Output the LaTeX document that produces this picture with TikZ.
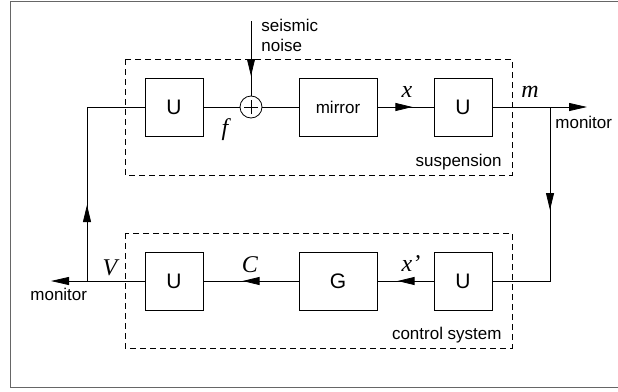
\documentclass[tikz,border=0pt]{standalone}
\usepackage{fontspec}
\setmainfont{Liberation Sans}
\newfontfamily\varfont{Liberation Serif}
\usetikzlibrary{arrows.meta,decorations.markings}
\tikzstyle{blockU}=[shape = rectangle, draw, minimum width = 58pt, minimum height = 58pt, inner sep = 0pt, font = \fontsize{21}{24}\selectfont]
\tikzstyle{blockWide}=[blockU, minimum width = 78pt]
\tikzstyle{sumNode}=[shape = circle, draw, minimum size = 22pt, inner sep = 0pt]
\tikzstyle{varLabel}=[inner sep = 0pt, anchor = base, font = \varfont\itshape\fontsize{24}{26}\selectfont]
\tikzstyle{textLabel}=[inner sep = 0pt, font = \fontsize{17}{20}\selectfont]
\tikzstyle{tipArrow}=[-{Triangle[length=18pt,width=8pt]}]
\tikzset{midArrow/.style={postaction={decorate}, decoration={markings, mark=at position #1 with {\arrow{Triangle[length=17pt,width=8pt]}}}}}

\begin{document}
\begin{tikzpicture}[x = 1pt, y = -1pt, line width = 0.8pt]
\useasboundingbox (0,0) rectangle (618,391);
% frame
\draw[black!60] (618,1) -- (10,1) -- (10,387) -- (618,387);
% subsystems
\draw[dash pattern = on 6pt off 4pt] (125,59) rectangle (512,175);
\draw[dash pattern = on 6pt off 4pt] (125,233) rectangle (512,348);
% blocks
\node[blockU] (uSusIn) at (174,107) {U};
\node[sumNode] (sum) at (251,107) {};
\draw ([xshift=-7pt]sum.center) -- ([xshift=7pt]sum.center)
      ([yshift=-7pt]sum.center) -- ([yshift=7pt]sum.center);
\node[blockWide, font = \fontsize{17}{20}\selectfont] (mirror) at (338,107) {mirror};
\node[blockU] (uSusOut) at (463,107) {U};
\node[blockU] (uCtrlOut) at (174,281) {U};
\node[blockWide] (gain) at (338,281) {G};
\node[blockU] (uCtrlIn) at (463,281) {U};
% free ends and corners
\coordinate (noiseIn) at (251,21);
\coordinate (monM) at (587,107);
\coordinate (tapM) at (550,107);
\coordinate (turnM) at (550,281);
\coordinate (monV) at (51,281);
\coordinate (tapV) at (87,281);
\coordinate (turnV) at (87,107);
% signals
\draw (uSusIn) -- (sum);
\draw (sum) -- (mirror);
\draw[midArrow=55pt] (noiseIn) -- (sum);
\draw[midArrow=35pt] (mirror) -- (uSusOut);
\draw[tipArrow] (uSusOut) -- (monM);
\draw[midArrow=103pt] (tapM) -- (turnM) -- (uCtrlIn);
\draw[midArrow=36pt] (uCtrlIn) -- (gain);
\draw[midArrow=56pt] (gain) -- (uCtrlOut);
\draw[tipArrow] (uCtrlOut) -- (monV);
\draw[midArrow=76pt] (tapV) -- (turnV) -- (uSusIn);
% labels
\node[varLabel] (fLab) at (225,135) {f};
\node[varLabel] (xLab) at (407,97) {x};
\node[varLabel] (mLab) at (530,97) {m};
\node[varLabel] (vLab) at (110,275) {V};
\node[varLabel] (cLab) at (250,272) {C};
\node[varLabel] (xpLab) at (411,271) {x’};
\node[textLabel, anchor = base west, align = left] (noiseLab) at (261,51) {seismic\\noise};
\node[textLabel, anchor = base east] (susLab) at (502,166) {suspension};
\node[textLabel, anchor = base east] (ctrlLab) at (502,339) {control system};
\node[textLabel, anchor = base west] (monMLab) at (555,128) {monitor};
\node[textLabel, anchor = base west] (monVLab) at (30,300) {monitor};
\end{tikzpicture}
\end{document}
